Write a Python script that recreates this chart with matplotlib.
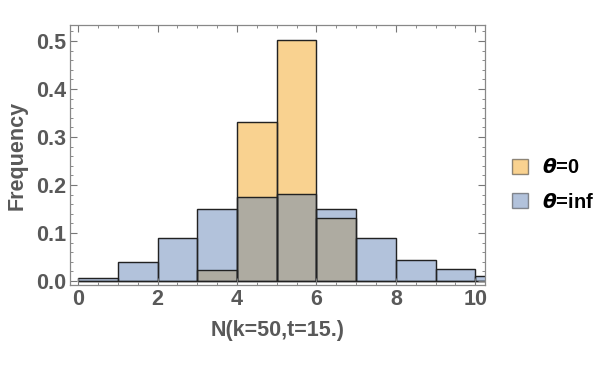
import matplotlib.pyplot as plt
from matplotlib.patches import Patch
from matplotlib.ticker import MultipleLocator

# histogram bins (left edges, width 1) and frequencies
bin_left = [0, 1, 2, 3, 4, 5, 6, 7, 8, 9, 10]
freq_theta0 = [0.0, 0.0, 0.0, 0.024, 0.332, 0.503, 0.132, 0.0, 0.0, 0.0, 0.0]
freq_thetainf = [0.006, 0.039, 0.090, 0.150, 0.175, 0.182, 0.150, 0.090, 0.044, 0.026, 0.010]
labels = [r"$\boldsymbol{\theta}$=0", r"$\boldsymbol{\theta}$=inf"]

ORANGE = "#F5A623"
BLUE = "#5E81B5"
EDGE = "#222222"
GREY = "#595959"

plt.rcParams["font.family"] = ["Liberation Sans", "DejaVu Sans"]
plt.rcParams["mathtext.fontset"] = "dejavusans"

fig = plt.figure(figsize=(6, 3.7), dpi=100)
ax = fig.add_axes([0.117, 0.23, 0.691, 0.702])

ax.bar(bin_left, freq_theta0, width=1, align="edge", color=ORANGE, alpha=0.5,
       edgecolor=EDGE, linewidth=1.0)
ax.bar(bin_left, freq_thetainf, width=1, align="edge", color=BLUE, alpha=0.48,
       edgecolor=EDGE, linewidth=1.0)
# crisp outlines on top
ax.bar(bin_left, freq_theta0, width=1, align="edge", fill=False, edgecolor=EDGE, linewidth=0.9)
ax.bar(bin_left, freq_thetainf, width=1, align="edge", fill=False, edgecolor=EDGE, linewidth=0.9)

ax.set_xlim(-0.2, 10.24)
ax.set_ylim(-0.008, 0.533)

ax.xaxis.set_major_locator(MultipleLocator(2))
ax.xaxis.set_minor_locator(MultipleLocator(0.5))
ax.yaxis.set_major_locator(MultipleLocator(0.1))
ax.yaxis.set_minor_locator(MultipleLocator(0.02))
ax.tick_params(which="both", direction="in", top=True, right=True, color="#777777")
ax.tick_params(which="major", length=5, width=0.8, labelsize=15.5, labelcolor=GREY, pad=3)
ax.tick_params(which="minor", length=2.5, width=0.6)
for lbl in ax.get_xticklabels() + ax.get_yticklabels():
    lbl.set_fontweight("bold")
ax.yaxis.set_major_formatter(plt.FuncFormatter(lambda v, p: f"{v:.1f}"))
for s in ax.spines.values():
    s.set_color("#888888")
    s.set_linewidth(0.9)

ax.set_xlabel("N(k=50,t=15.)", fontsize=15.5, fontweight="bold", color=GREY, labelpad=7)
ax.set_ylabel("Frequency", fontsize=15.5, fontweight="bold", color=GREY, labelpad=6)

handles = [Patch(facecolor=ORANGE, alpha=0.5, edgecolor=EDGE),
           Patch(facecolor=BLUE, alpha=0.48, edgecolor=EDGE)]
leg = fig.legend(handles, labels, loc="center left", bbox_to_anchor=(0.823, 0.5),
                 frameon=False, handlelength=0.8, handleheight=0.8, handletextpad=0.7,
                 labelspacing=0.75, prop={"weight": "bold", "size": 14.5})

fig.savefig("out.png", dpi=100)
